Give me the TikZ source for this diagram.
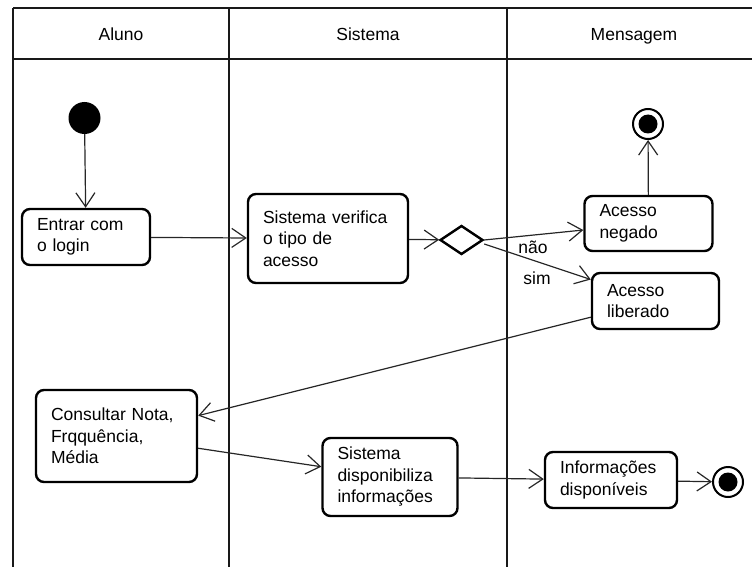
\documentclass[tikz,border=0pt]{standalone}
\usepackage{fontspec}
\setmainfont{Liberation Sans}
\usetikzlibrary{arrows.meta,shapes.geometric}

\tikzset{
  lane/.style={line width=2.4pt, black!90},
  act/.style={draw, line width=2.4pt, rounded corners=8pt, align=left,
    inner xsep=15pt, inner ysep=0pt, font=\fontsize{17.5}{21.5}\selectfont},
  lbl/.style={font=\fontsize{17.5}{21.5}\selectfont, inner sep=0pt, anchor=base},
  flow/.style={line width=1.2pt, black!85,
    -{Straight Barb[length=14pt, width=19pt, line width=1.2pt]}},
  startnode/.style={circle, fill=black, minimum size=32pt, inner sep=0pt},
  endnode/.style={circle, draw, line width=2pt, minimum size=30pt, inner sep=0pt,
    path picture={\fill (path picture bounding box.center) circle (9.5pt);}},
  choice/.style={diamond, draw, line width=2.4pt, minimum width=43pt,
    minimum height=29pt, aspect=1.48, inner sep=0pt}
}

\begin{document}
\begin{tikzpicture}[x=1pt, y=-1pt]
  \useasboundingbox (0,0) rectangle (752,567);

  % swimlane frame
  \coordinate (tl) at (13,8);
  \coordinate (tr) at (752,8);
  \coordinate (hl) at (13,59);
  \coordinate (hr) at (752,59);
  \coordinate (bl) at (13,567);
  \coordinate (d1t) at (229,8);
  \coordinate (d1b) at (229,567);
  \coordinate (d2t) at (507,8);
  \coordinate (d2b) at (507,567);
  \draw[lane] (tl) -- (tr);
  \draw[lane] (hl) -- (hr);
  \draw[lane] (tl) -- (bl);
  \draw[lane] (d1t) -- (d1b);
  \draw[lane] (d2t) -- (d2b);

  % lane titles (placed by baseline)
  \node[lbl] (hAluno) at (121,41) {Aluno};
  \node[lbl] (hSistema) at (368,41) {Sistema};
  \node[lbl] (hMensagem) at (634,41) {Mensagem};

  % activities
  \node[startnode] (ini) at (84.5,118) {};
  \node[act, text width=98pt, minimum height=56pt] (entrar) at (86,237)
    {Entrar com\\o login};
  \node[act, text width=130pt, minimum height=89pt] (verif) at (328,238.5)
    {Sistema verifica\\o tipo de\\acesso};
  \node[choice] (dec) at (461.5,240) {};
  \node[act, text width=98pt, minimum height=55pt] (negado) at (648.5,223.5)
    {Acesso\\negado};
  \node[endnode] (fimA) at (648,124) {};
  \node[act, text width=97pt, minimum height=56pt] (liberado) at (655.5,301)
    {Acesso\\liberado};
  \node[act, text width=131pt, minimum height=92pt] (consultar) at (116.5,436)
    {Consultar Nota,\\Frqquência,\\Média};
  \node[act, text width=105pt, minimum height=78pt] (disp) at (390,477)
    {Sistema\\disponibiliza\\informações};
  \node[act, text width=102pt, minimum height=56pt] (info) at (611,480)
    {Informações\\disponíveis};
  \node[endnode] (fimB) at (728,482) {};

  % guard labels
  \node[lbl] (gNao) at (533,253) {não};
  \node[lbl] (gSim) at (537,284) {sim};

  % control flow
  \draw[flow] (ini) -- (entrar);
  \draw[flow] (entrar) -- (verif);
  \draw[flow] (verif) -- (dec);
  \draw[flow] (dec.east) -- (negado);
  \draw[flow] ([yshift=-4pt]dec.east) -- (liberado);
  \draw[flow] (negado) -- (fimA);
  \draw[flow] (liberado) -- (consultar);
  \draw[flow] (consultar) -- (disp);
  \draw[flow] (disp) -- (info);
  \draw[flow] (info) -- (fimB);
\end{tikzpicture}
\end{document}
